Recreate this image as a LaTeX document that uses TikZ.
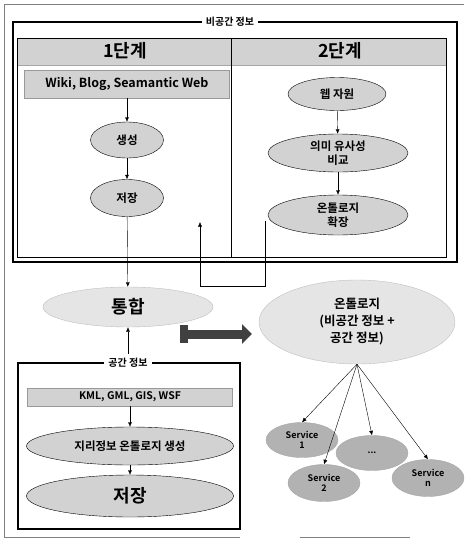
\documentclass[tikz,border=0pt]{standalone}
\usepackage{fontspec}
\setmainfont{Noto Sans CJK KR}[BoldFont={Noto Sans CJK KR Bold}]
\usetikzlibrary{shapes.geometric,arrows.meta,positioning}

\begin{document}
\begin{tikzpicture}[x=1pt,y=-1pt,
    frame/.style={draw, line width=2.4pt},
    band/.style={draw=gray!70, fill=gray!35, thin},
    blob/.style={draw, ellipse, fill=gray!35, font=\bfseries\fontsize{11.5}{13.5}\selectfont, align=center, inner sep=0pt},
    bigblob/.style={draw=gray!50, ellipse, fill=gray!20, font=\bfseries, align=center, inner sep=0pt},
    svc/.style={draw=gray!70, ellipse, fill=gray!60, font=\bfseries\fontsize{9}{10.5}\selectfont, align=center, inner sep=0pt, minimum width=72pt, minimum height=35pt},
    link/.style={black, thin, -{Latex[length=4.5pt,width=4pt]}},
    boxtitle/.style={fill=white, font=\bfseries\fontsize{10}{12}\selectfont, inner sep=4pt}]

\useasboundingbox (0,0) rectangle (464,539);
% scan border
\draw[gray, thin] (464,4) -- (4,4) -- (4,537) -- (240,537);
\draw[gray, thin] (300,537) -- (410,537);

% non-spatial information
\draw[frame] (13,22) rectangle (457,262);
\draw[band] (17,38) rectangle (446,65);
\draw[thin] (17,38) rectangle (446,257);
\draw[thin] (231,38) -- (231,257);
\node[boxtitle] (nsTitle) at (230,22) {비공간 정보};
\node[font=\bfseries\fontsize{18}{20}\selectfont] (stepOne) at (125,51) {1단계};
\node[font=\bfseries\fontsize{18}{20}\selectfont] (stepTwo) at (340,51) {2단계};

\node[band, draw=gray!80, minimum width=205pt, minimum height=28pt, font=\bfseries\fontsize{12.5}{14}\selectfont] (wiki) at (127,84) {Wiki, Blog, Seamantic Web};
\node[blob, minimum width=73pt, minimum height=36pt] (create) at (127,140) {생성};
\node[blob, minimum width=73pt, minimum height=37pt] (store) at (127,198) {저장};
\node[blob, minimum width=98pt, minimum height=33pt] (webres) at (337,94) {웹 자원};
\node[blob, minimum width=140pt, minimum height=38pt] (compare) at (338,153) {의미 유사성\\비교};
\node[blob, minimum width=140pt, minimum height=40pt] (extend) at (338,215) {온톨로지\\확장};

\draw[link] (wiki) -- (create);
\draw[link] (create) -- (store);
\draw[link] (webres) -- (compare);
\draw[link] (compare) -- (extend);

% merge
\node[bigblob, minimum width=170pt, minimum height=40pt, font=\bfseries\fontsize{18}{20}\selectfont] (merge) at (128,307) {통합};
\draw[link] (store) -- (merge);

\coordinate (fbStart) at (265,221);
\coordinate (fbEnd) at (200,222);
\draw[link] (fbStart) -- ++(0,65) -| (fbEnd);

% spatial information
\draw[frame] (18,363) rectangle (240,529);
\node[boxtitle] (spTitle) at (128,363) {공간 정보};
\node[band, draw=gray!80, minimum width=205pt, minimum height=18pt, font=\bfseries\fontsize{10.5}{12}\selectfont] (kml) at (130,397) {KML, GML, GIS, WSF};
\node[blob, minimum width=207pt, minimum height=38pt] (geo) at (130,446) {지리정보 온톨로지 생성};
\node[blob, minimum width=207pt, minimum height=42pt, font=\bfseries\fontsize{18}{20}\selectfont] (geoStore) at (130,496) {저장};
\draw[link] (kml) -- (geo);
\draw[link] (geo) -- (geoStore);
\draw[link] (spTitle) -- (merge);

% big arrow to ontology
\coordinate (bigStart) at (181,334);
\coordinate (bigEnd) at (252,334);
\fill[black!75] (180,325) rectangle (188,343);
\draw[black!75, line width=9pt, -{Triangle[length=10pt,width=19pt]}] (bigStart) -- (bigEnd);

\node[bigblob, minimum width=196pt, minimum height=84pt, font=\bfseries\fontsize{12.5}{17}\selectfont] (onto) at (357,322) {온톨로지\\(비공간 정보 +\\공간 정보)};

% services
\node[svc] (svcOne) at (302,440) {Service\\1};
\node[svc] (svcDots) at (372,453) {...};
\node[svc, minimum height=37pt] (svcTwo) at (324,483) {Service\\2};
\node[svc, minimum height=37pt] (svcN) at (428,478) {Service\\n};
\draw[link] (onto.south) -- (svcOne.north);
\draw[link] (onto.south) -- (svcTwo.north);
\draw[link] (onto.south) -- (svcDots.north);
\draw[link] (onto.south) -- (svcN.north);
\end{tikzpicture}
\end{document}
